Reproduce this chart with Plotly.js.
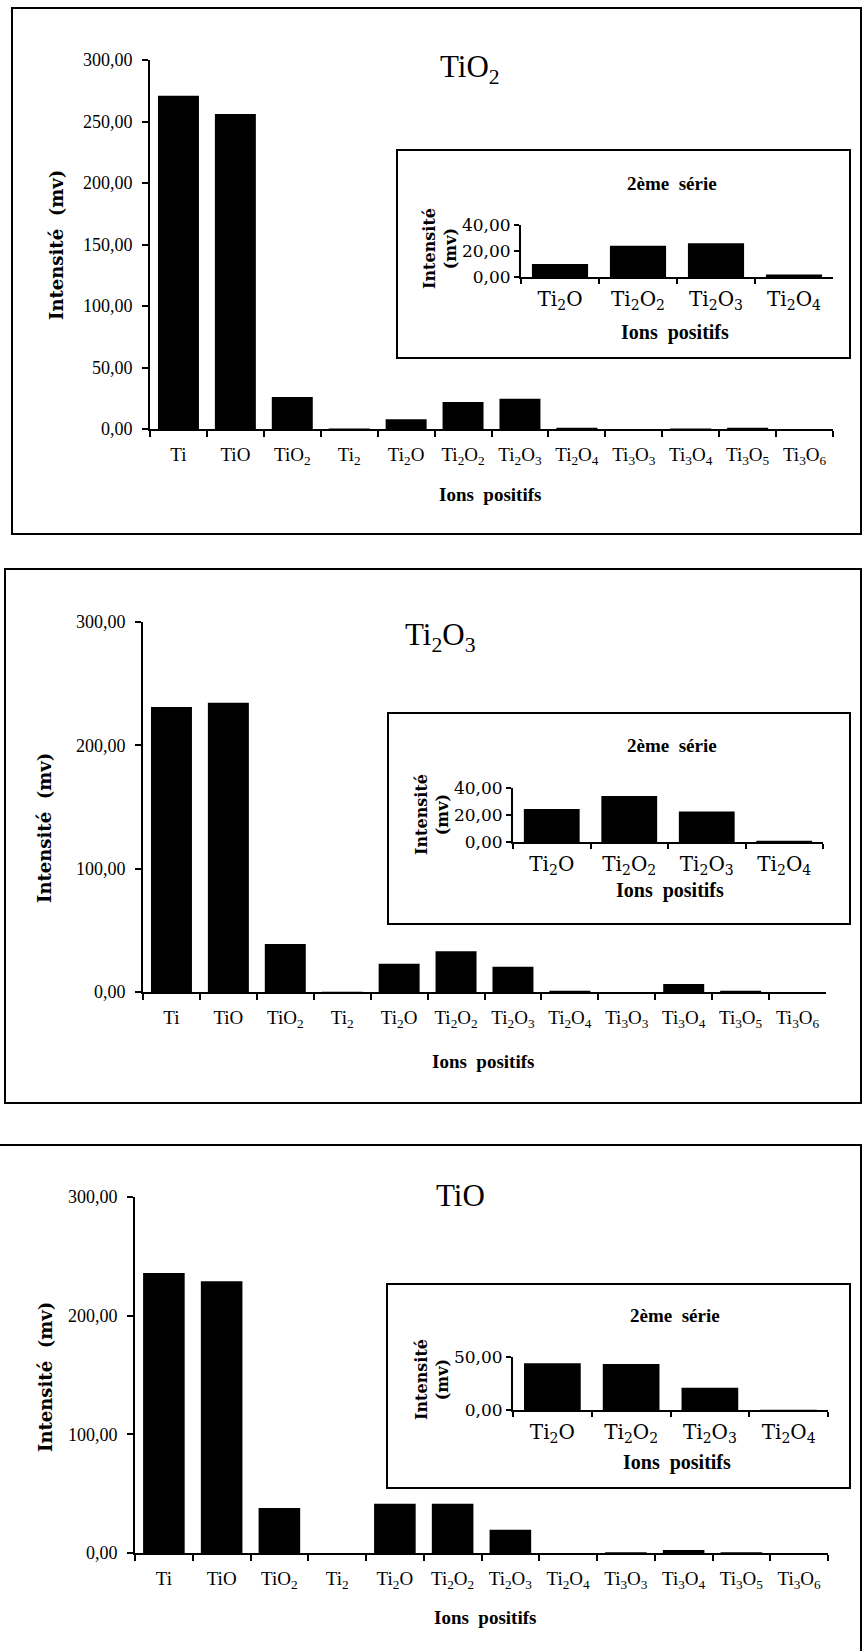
<!DOCTYPE html>
<html>
<head>
<meta charset="utf-8">
<script src="https://cdn.plot.ly/plotly-3.0.1.min.js"></script>
<style>html,body{margin:0;padding:0;background:#fff;}#chart{width:864px;height:1651px;}</style>
</head>
<body>
<div id="chart"></div>
<script>
// ---- Data ----
const ions = ['Ti','TiO','TiO<sub>2</sub>','Ti<sub>2</sub>','Ti<sub>2</sub>O','Ti<sub>2</sub>O<sub>2</sub>',
  'Ti<sub>2</sub>O<sub>3</sub>','Ti<sub>2</sub>O<sub>4</sub>','Ti<sub>3</sub>O<sub>3</sub>','Ti<sub>3</sub>O<sub>4</sub>',
  'Ti<sub>3</sub>O<sub>5</sub>','Ti<sub>3</sub>O<sub>6</sub>'];
const ionsSerie2 = ['Ti<sub>2</sub>O','Ti<sub>2</sub>O<sub>2</sub>','Ti<sub>2</sub>O<sub>3</sub>','Ti<sub>2</sub>O<sub>4</sub>'];

const tio2Main   = [271, 256, 26, 0.5, 8, 22, 24.5, 1, 0, 0.5, 1, 0];
const tio2Serie2 = [10, 24, 26, 2];
const ti2o3Main   = [231, 234.5, 39, 0.3, 23, 33, 20.5, 1, 0, 6.5, 1, 0];
const ti2o3Serie2 = [24.5, 34, 22.5, 1];
const tioMain   = [236, 229, 38, 0, 41.5, 41.5, 19.5, 0, 0.7, 2.5, 0.7, 0];
const tioSerie2 = [44, 43.5, 21, 0.3];

const panelTitles = ['TiO<sub>2</sub>', 'Ti<sub>2</sub>O<sub>3</sub>', 'TiO'];
const mainTicks = [[0,50,100,150,200,250,300],[0,100,200,300],[0,100,200,300]];
const serie2Ticks = [[0,20,40],[0,20,40],[0,50]];
const serie2Max = [40,40,50];
const yTitle = 'Intensité&nbsp;&nbsp;(mv)';
const xTitle = 'Ions&nbsp;&nbsp;positifs';
const insetTitle = '2ème&nbsp;&nbsp;série';

// ---- Layout geometry (pixels) ----
const W = 864, H = 1651;
const X = p => p / W, Y = p => 1 - p / H;

const mains = [
  {x0:150, x1:833, y0:429, y1:60,  frame:[12,8,861,534],    title:[470,69],  ytitle:[57,245],  xtitle:[490,494]},
  {x0:143, x1:826, y0:992, y1:622, frame:[5,569,861,1103],  title:[441,637], ytitle:[45,828],  xtitle:[483,1061]},
  {x0:135, x1:828, y0:1553,y1:1197,frame:[-3,1145,861,1700],title:[460,1195],ytitle:[45,1377], xtitle:[485,1617]}
];
const insets = [
  {x0:521, x1:833, y0:277, y1:225,   frame:[397,150,850,358],   title:[672,183],  ytitle:[440,249],  xtitle:[675,333]},
  {x0:513, x1:823, y0:842, y1:788,   frame:[388,713,850,924],   title:[672,745],  ytitle:[432,815],  xtitle:[670,890]},
  {x0:513, x1:828, y0:1410,y1:1357,  frame:[387,1284,850,1488], title:[675,1315], ytitle:[432,1380], xtitle:[677,1462]}
];

const mainData = [tio2Main, ti2o3Main, tioMain];
const serie2Data = [tio2Serie2, ti2o3Serie2, tioSerie2];

const traces = [];
const layout = {
  width: W, height: H, autosize: false,
  margin: {l:0, r:0, t:0, b:0},
  paper_bgcolor: '#fff', plot_bgcolor: 'rgba(0,0,0,0)',
  separators: ', ',
  showlegend: false,
  font: {family: 'Liberation Serif', color: '#000', size: 16},
  shapes: [], annotations: []
};

function ann(text, px, py, opts) {
  layout.annotations.push(Object.assign({
    text: text, xref: 'paper', yref: 'paper', x: X(px), y: Y(py),
    xanchor: 'center', yanchor: 'middle', showarrow: false
  }, opts || {}));
}
function frame(f, w) {
  layout.shapes.push({type:'rect', xref:'paper', yref:'paper',
    x0: X(f[0]), y0: Y(f[1]), x1: X(f[2]), y1: Y(f[3]),
    line: {color:'#000', width: w}, fillcolor: 'rgba(0,0,0,0)'});
}

for (let i = 0; i < 3; i++) {
  // main chart
  const m = mains[i];
  const n = i + 1;
  const xa = n === 1 ? 'xaxis' : 'xaxis' + n;
  const ya = n === 1 ? 'yaxis' : 'yaxis' + n;
  const xr = n === 1 ? 'x' : 'x' + n;
  const yr = n === 1 ? 'y' : 'y' + n;
  traces.push({type:'bar', x: ions, y: mainData[i], xaxis: xr, yaxis: yr,
    marker: {color:'#000', line:{width:0}}, hoverinfo:'skip'});
  layout[xa] = {domain:[X(m.x0), X(m.x1)], anchor: yr, type:'category',
    showline:true, linecolor:'#000', linewidth:2, ticks:'outside', ticklen:6, tickwidth:2, tickcolor:'#000',
    tickson:'boundaries', showgrid:false, zeroline:false, fixedrange:true,
    tickfont:{family:'Liberation Serif', size:19}, ticklabelstandoff:7, tickangle:0};
  layout[ya] = {domain:[Y(m.y0), Y(m.y1)], anchor: xr, range:[0,300],
    tickvals: mainTicks[i], tickformat:'.2f', showline:true, linecolor:'#000', linewidth:2,
    ticks:'outside', ticklen:6, tickwidth:2, tickcolor:'#000', showgrid:false, zeroline:false,
    fixedrange:true, tickfont:{family:'Liberation Serif', size:18}, ticklabelstandoff:6};
  frame(m.frame, 2);
  ann(panelTitles[i], m.title[0], m.title[1], {font:{family:'Liberation Serif', size:31}});
  ann('<b>' + yTitle + '</b>', m.ytitle[0], m.ytitle[1], {textangle:-90, font:{family:'DejaVu Serif', size:18}});
  ann('<b>' + xTitle + '</b>', m.xtitle[0], m.xtitle[1], {font:{family:'Liberation Serif', size:19}});

  // inset "2ème série"
  const s = insets[i];
  const k = i + 4;
  traces.push({type:'bar', x: ionsSerie2, y: serie2Data[i], xaxis: 'x' + k, yaxis: 'y' + k,
    marker: {color:'#000', line:{width:0}}, hoverinfo:'skip'});
  layout['xaxis' + k] = {domain:[X(s.x0), X(s.x1)], anchor:'y' + k, type:'category',
    showline:true, linecolor:'#000', linewidth:2, ticks:'outside', ticklen:5, tickwidth:2, tickcolor:'#000',
    tickson:'boundaries', showgrid:false, zeroline:false, fixedrange:true,
    tickfont:{family:'DejaVu Serif', size:20}, ticklabelstandoff:3, tickangle:0};
  layout['yaxis' + k] = {domain:[Y(s.y0), Y(s.y1)], anchor:'x' + k, range:[0, serie2Max[i]],
    tickvals: serie2Ticks[i], tickformat:'.2f', showline:true, linecolor:'#000', linewidth:2,
    ticks:'outside', ticklen:5, tickwidth:2, tickcolor:'#000', showgrid:false, zeroline:false,
    fixedrange:true, tickfont:{family:'DejaVu Serif', size:17}, ticklabelstandoff:0};
  frame(s.frame, 2);
  ann('<b>' + insetTitle + '</b>', s.title[0], s.title[1], {font:{family:'Liberation Serif', size:19}});
  ann('<b>Intensité<br>(mv)</b>', s.ytitle[0], s.ytitle[1], {textangle:-90, font:{family:'DejaVu Serif', size:16}});
  ann('<b>' + xTitle + '</b>', s.xtitle[0], s.xtitle[1], {font:{family:'Liberation Serif', size:20}});
}

layout.bargap = 0.28;

Plotly.newPlot('chart', traces, layout, {displayModeBar:false, staticPlot:true});
</script>
</body>
</html>
